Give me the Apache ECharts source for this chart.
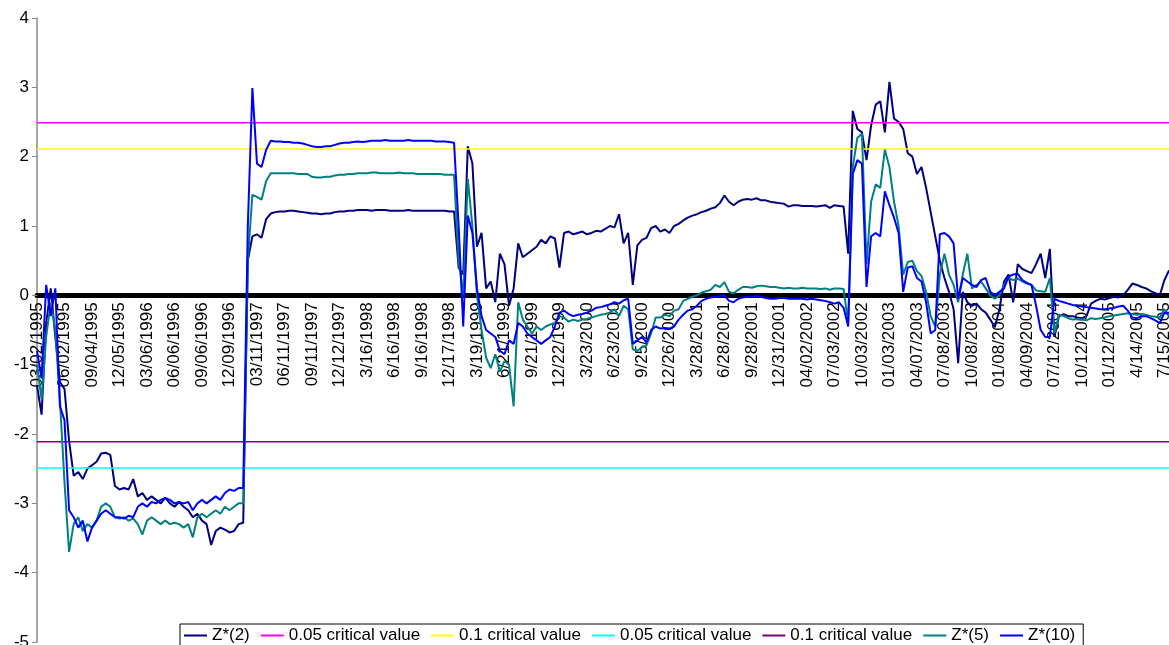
<!DOCTYPE html>
<html><head><meta charset="utf-8">
<script src="https://cdn.jsdelivr.net/npm/echarts@6/dist/echarts.min.js"></script>
<style>html,body{margin:0;padding:0;background:#fff;overflow:hidden}#c{width:1169px;height:645px}</style>
</head><body><div id="c"></div>
<script>
// Quarterly tick labels (one every 6 observations)
const tickLabels = ["03/02/1995","06/02/1995","09/04/1995","12/05/1995","03/06/1996","06/06/1996","09/06/1996","12/09/1996",
"03/11/1997","06/11/1997","09/11/1997","12/12/1997","3/16/1998","6/16/1998","9/16/1998","12/17/1998",
"3/19/1999","6/21/1999","9/21/1999","12/22/1999","3/23/2000","6/23/2000","9/25/2000","12/26/2000",
"3/28/2001","6/28/2001","9/28/2001","12/31/2001","04/02/2002","07/03/2002","10/03/2002","01/03/2003",
"04/07/2003","07/08/2003","10/08/2003","01/08/2004","04/09/2004","07/12/2004","10/12/2004","01/12/2005",
"4/14/2005","7/15/2005"];
const obsPerLabel = 6;

const z2 = [
-1.3,-1.72,-0.4,0.1,-0.6,-1.25,
-1.35,-2.1,-2.6,-2.55,-2.65,-2.5,
-2.45,-2.4,-2.28,-2.27,-2.3,-2.75,
-2.8,-2.78,-2.8,-2.65,-2.9,-2.85,
-2.95,-2.9,-2.95,-3.0,-2.92,-3.0,
-3.05,-2.98,-3.05,-3.1,-3.2,-3.15,
-3.25,-3.3,-3.6,-3.4,-3.35,-3.38,
-3.42,-3.4,-3.3,-3.28,0.5,0.85,
0.88,0.83,1.1,1.18,1.2,1.21,
1.21,1.22,1.22,1.21,1.2,1.19,
1.18,1.18,1.17,1.18,1.18,1.2,
1.21,1.21,1.22,1.22,1.23,1.23,
1.23,1.22,1.23,1.23,1.23,1.22,
1.22,1.22,1.22,1.23,1.22,1.22,
1.22,1.22,1.22,1.22,1.22,1.22,
1.21,1.21,0.4,0.3,2.15,1.9,
0.7,0.9,0.1,0.2,-0.1,0.6,
0.45,-0.15,0.1,0.75,0.55,0.6,
0.65,0.7,0.8,0.75,0.85,0.82,
0.4,0.9,0.92,0.88,0.9,0.92,
0.88,0.9,0.93,0.92,0.96,1.0,
0.98,1.17,0.75,0.9,0.15,0.72,
0.8,0.83,0.97,1.0,0.92,0.95,
0.9,1.0,1.03,1.08,1.12,1.15,
1.17,1.2,1.22,1.25,1.27,1.33,
1.44,1.35,1.3,1.35,1.38,1.39,
1.38,1.4,1.37,1.37,1.35,1.34,
1.33,1.32,1.28,1.3,1.3,1.29,
1.29,1.29,1.28,1.29,1.3,1.26,
1.3,1.29,1.28,0.6,2.66,2.4,
2.35,1.95,2.45,2.75,2.8,2.35,
3.08,2.55,2.5,2.4,2.05,2.0,
1.75,1.85,1.55,1.2,0.85,0.5,
0.25,0.05,-0.2,-0.98,0.05,-0.1,
-0.15,-0.12,-0.2,-0.25,-0.35,-0.46,
-0.2,0.2,0.3,-0.1,0.45,0.38,
0.35,0.32,0.45,0.6,0.25,0.67,
-0.6,-0.3,-0.27,-0.3,-0.3,-0.32,
-0.33,-0.3,-0.12,-0.08,-0.05,-0.06,
-0.04,-0.02,-0.03,0.0,0.08,0.17,
0.15,0.12,0.1,0.06,0.03,0.0,
0.22,0.36];

const z5 = [
-1.0,-1.5,-0.6,-0.1,-0.5,-1.5,
-2.7,-3.7,-3.3,-3.2,-3.4,-3.3,
-3.35,-3.25,-3.05,-3.0,-3.05,-3.2,
-3.22,-3.2,-3.25,-3.22,-3.3,-3.45,
-3.25,-3.2,-3.25,-3.3,-3.25,-3.3,
-3.28,-3.3,-3.35,-3.3,-3.49,-3.2,
-3.15,-3.2,-3.15,-3.1,-3.15,-3.05,
-3.1,-3.05,-3.0,-3.0,0.5,1.45,
1.42,1.38,1.65,1.76,1.76,1.76,
1.76,1.76,1.76,1.75,1.75,1.75,
1.71,1.7,1.7,1.71,1.71,1.73,
1.74,1.74,1.75,1.75,1.76,1.76,
1.76,1.77,1.77,1.76,1.76,1.76,
1.76,1.77,1.76,1.76,1.76,1.75,
1.75,1.75,1.75,1.75,1.75,1.74,
1.74,1.74,0.5,0.0,1.68,1.0,
0.0,-0.5,-0.9,-1.05,-0.85,-1.1,
-0.95,-1.0,-1.6,-0.1,-0.35,-0.45,
-0.55,-0.45,-0.5,-0.45,-0.42,-0.4,
-0.3,-0.32,-0.38,-0.35,-0.37,-0.35,
-0.34,-0.32,-0.3,-0.28,-0.27,-0.25,
-0.2,-0.3,-0.15,-0.2,-0.78,-0.8,
-0.75,-0.72,-0.55,-0.32,-0.32,-0.28,
-0.3,-0.22,-0.2,-0.08,-0.05,-0.02,
0.0,0.04,0.06,0.08,0.15,0.12,
0.19,0.05,0.03,0.08,0.12,0.12,
0.11,0.13,0.14,0.13,0.12,0.12,
0.11,0.1,0.11,0.1,0.1,0.11,
0.1,0.1,0.1,0.09,0.1,0.08,
0.1,0.1,0.09,-0.4,1.85,2.27,
2.33,0.45,1.35,1.6,1.55,2.1,
1.85,1.35,1.0,0.3,0.48,0.5,
0.35,0.28,0.05,-0.3,-0.45,0.3,
0.6,0.3,0.15,-0.1,0.3,0.6,
0.1,0.15,0.2,0.1,0.0,-0.05,
0.0,0.15,0.25,0.22,0.24,0.2,
0.17,0.15,0.07,0.06,0.05,0.25,
-0.55,-0.28,-0.3,-0.33,-0.35,-0.34,
-0.35,-0.36,-0.33,-0.34,-0.33,-0.32,
-0.3,-0.29,-0.28,-0.27,-0.26,-0.27,
-0.28,-0.27,-0.28,-0.3,-0.31,-0.32,
-0.2,-0.3];

const z10 = [
-0.8,-1.2,0.15,-0.3,0.1,-1.6,
-1.8,-3.1,-3.2,-3.35,-3.25,-3.55,
-3.35,-3.25,-3.15,-3.1,-3.15,-3.2,
-3.2,-3.22,-3.18,-3.2,-3.05,-3.0,
-3.05,-2.98,-3.0,-2.95,-2.92,-2.95,
-3.0,-2.98,-3.0,-2.98,-3.1,-3.0,
-2.95,-3.0,-2.95,-2.9,-2.95,-2.85,
-2.8,-2.82,-2.78,-2.78,1.0,2.99,
1.9,1.85,2.1,2.23,2.22,2.22,
2.21,2.21,2.2,2.2,2.19,2.17,
2.15,2.14,2.14,2.15,2.15,2.17,
2.19,2.2,2.2,2.21,2.22,2.21,
2.22,2.23,2.23,2.23,2.24,2.23,
2.23,2.23,2.23,2.24,2.23,2.23,
2.23,2.23,2.23,2.22,2.22,2.22,
2.21,2.2,1.0,-0.45,1.15,0.9,
0.1,-0.3,-0.5,-0.55,-0.6,-0.8,
-0.85,-0.65,-0.7,-0.4,-0.45,-0.55,
-0.6,-0.65,-0.7,-0.65,-0.6,-0.45,
-0.25,-0.22,-0.27,-0.3,-0.28,-0.27,
-0.25,-0.22,-0.18,-0.17,-0.15,-0.13,
-0.1,-0.12,-0.07,-0.05,-0.7,-0.65,
-0.6,-0.68,-0.5,-0.45,-0.48,-0.47,
-0.48,-0.45,-0.35,-0.28,-0.22,-0.2,
-0.15,-0.08,-0.05,-0.03,-0.02,-0.01,
0.0,-0.08,-0.1,-0.05,-0.03,-0.02,
-0.02,-0.01,-0.02,-0.04,-0.05,-0.05,
-0.04,-0.04,-0.05,-0.05,-0.05,-0.05,
-0.06,-0.05,-0.06,-0.07,-0.08,-0.1,
-0.12,-0.1,-0.18,-0.45,1.75,1.95,
1.9,0.12,0.85,0.9,0.85,1.5,
1.3,1.12,0.9,0.05,0.4,0.42,
0.25,0.2,-0.1,-0.55,-0.5,0.88,
0.9,0.85,0.75,-0.05,0.25,0.2,
0.15,0.12,0.22,0.25,0.05,0.0,
0.05,0.1,0.27,0.3,0.31,0.22,
0.18,0.15,-0.15,-0.5,-0.6,-0.6,
-0.05,-0.08,-0.1,-0.12,-0.14,-0.15,
-0.16,-0.17,-0.18,-0.19,-0.2,-0.2,
-0.19,-0.18,-0.16,-0.15,-0.22,-0.32,
-0.33,-0.3,-0.3,-0.33,-0.36,-0.4,
-0.25,-0.25];

const crit05 = 2.49;
const crit10 = 2.11;

const FONT = "'Liberation Sans', Arial, sans-serif";
const lastIdx = z2.length - 1;
const toXY = arr => arr.map((v, i) => [i, v]);
const flat = v => [[0, v], [lastIdx, v]];

const GRID_TOP = 18, GRID_BOTTOM = 3, H = 645;
const Y_MIN = -5, Y_MAX = 4;
const plotH = H - GRID_TOP - GRID_BOTTOM;
// shift the date axis up from the grid bottom to the y = 0 line
const zeroOffset = -plotH * (0 - Y_MIN) / (Y_MAX - Y_MIN);

const chart = echarts.init(document.getElementById('c'), null, {renderer: 'canvas'});
chart.setOption({
  animation: false,
  backgroundColor: '#fff',
  textStyle: {fontFamily: FONT},
  grid: {left: 37, right: 0, top: GRID_TOP, bottom: GRID_BOTTOM, containLabel: false, outerBoundsMode: 'none'},
  xAxis: {
    type: 'value', min: 0, max: lastIdx, interval: obsPerLabel,
    position: 'bottom', offset: zeroOffset,
    axisLine: {onZero: false, lineStyle: {color: '#000', width: 5}},
    axisTick: {show: false},
    splitLine: {show: false},
    axisLabel: {
      rotate: 90, fontSize: 17, color: '#000', margin: 7, fontFamily: FONT,
      showMinLabel: true, showMaxLabel: true,
      formatter: v => (v % obsPerLabel === 0 && tickLabels[v / obsPerLabel]) ? tickLabels[v / obsPerLabel] : ''
    }
  },
  yAxis: {
    type: 'value', min: Y_MIN, max: Y_MAX, interval: 1,
    axisLine: {show: true, lineStyle: {color: '#888', width: 1.5}},
    axisTick: {show: true, length: 5, lineStyle: {color: '#888'}},
    splitLine: {show: false},
    axisLabel: {fontSize: 17, color: '#000', margin: 8, fontFamily: FONT}
  },
  legend: {
    left: 180, top: 624, orient: 'horizontal',
    padding: [3, 8, 6, 4], itemGap: 11, itemWidth: 23, itemHeight: 2,
    icon: 'rect',
    backgroundColor: '#fff', borderColor: '#000', borderWidth: 1,
    textStyle: {fontSize: 17, color: '#000', fontFamily: FONT},
    formatter: n => n.trim(),
    data: ['Z*(2)', '0.05 critical value', '0.1 critical value', '0.05 critical value ', '0.1 critical value ', 'Z*(5)', 'Z*(10)']
  },
  series: [
    {name: 'Z*(2)', type: 'line', data: toXY(z2), symbol: 'none', color: '#000080', lineStyle: {width: 2}},
    {name: '0.05 critical value', type: 'line', data: flat(crit05), symbol: 'none', color: '#FF00FF', lineStyle: {width: 1.5}},
    {name: '0.1 critical value', type: 'line', data: flat(crit10), symbol: 'none', color: '#FFFF00', lineStyle: {width: 1.5}},
    {name: '0.05 critical value ', type: 'line', data: flat(-crit05), symbol: 'none', color: '#00FFFF', lineStyle: {width: 1.5}},
    {name: '0.1 critical value ', type: 'line', data: flat(-crit10), symbol: 'none', color: '#800080', lineStyle: {width: 1.5}},
    {name: 'Z*(5)', type: 'line', data: toXY(z5), symbol: 'none', color: '#008080', lineStyle: {width: 2}},
    {name: 'Z*(10)', type: 'line', data: toXY(z10), symbol: 'none', color: '#0000FF', lineStyle: {width: 2}}
  ]
});
</script></body></html>
